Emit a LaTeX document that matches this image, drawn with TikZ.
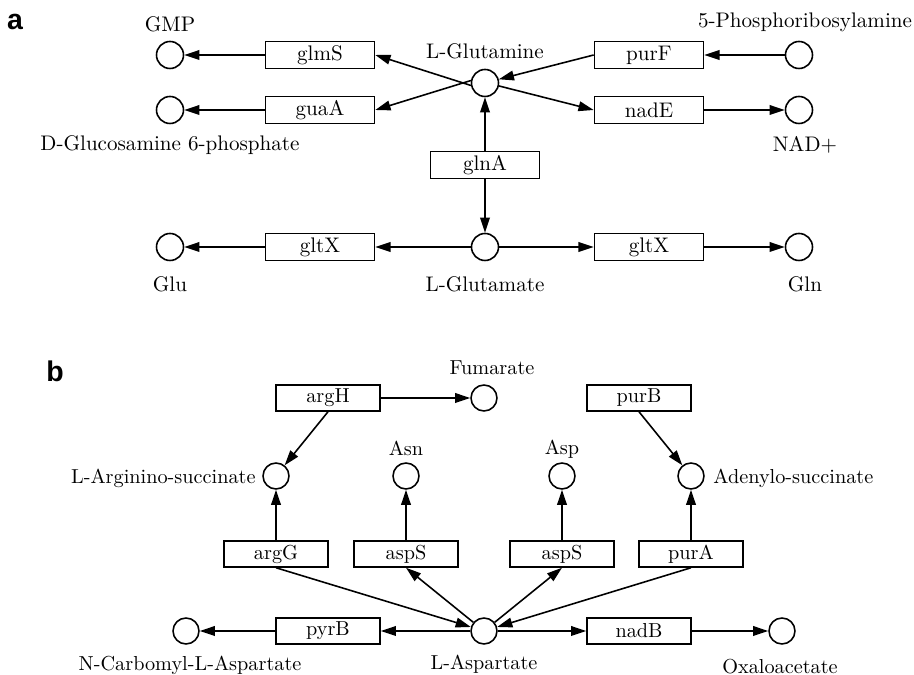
\documentclass[tikz,border=0pt]{standalone}
\usepackage{fontspec}
\newfontfamily\panelfont{Liberation Sans}
\usetikzlibrary{arrows.meta}

\tikzset{
  lw/.style={line width=0.75pt},
  met/.style={circle, draw, lw, minimum size=12.8pt, inner sep=0pt},
  metb/.style={circle, draw, lw, minimum size=12.3pt, inner sep=0pt},
  enz/.style={rectangle, draw, lw, minimum width=51.7pt, minimum height=12.8pt, inner sep=0pt},
  enzb/.style={rectangle, draw, lw, minimum width=49.3pt, minimum height=12.3pt, inner sep=0pt},
  rx/.style={lw, -{Triangle[length=7.2pt,width=4.6pt]}},
  lbl/.style={inner sep=0pt},
  panel/.style={inner sep=0pt, font=\panelfont\bfseries\fontsize{13.5}{16}\selectfont},
}

\begin{document}
\begin{tikzpicture}[x=0.474pt, y=-0.474pt]
\useasboundingbox (0,0) rectangle (914,675);

% ---------- panel a: glutamine / glutamate ----------
\node[panel] (pa) at (15,22) {a};

\begin{scope}[font=\fontsize{10}{12}\selectfont]
\node[met] (gmp) at (170,55) {};
\node[met] (g6p) at (170,110) {};
\node[met] (glu) at (170,247) {};
\node[met] (gln) at (485,83) {};
\node[met] (glut) at (485,247) {};
\node[met] (pra) at (799,55) {};
\node[met] (nad) at (799,110) {};
\node[met] (glnout) at (799,247) {};

\node[enz] (glmS) at (320,55) {glmS};
\node[enz] (guaA) at (320,110) {guaA};
\node[enz] (gltXl) at (320,247) {gltX};
\node[enz] (purF) at (649,55) {purF};
\node[enz] (nadE) at (649,110) {nadE};
\node[enz] (glnA) at (485,165) {glnA};
\node[enz] (gltXr) at (649,247) {gltX};

\node[lbl] (tgmp) at (170,24) {GMP};
\node[lbl] (tg6p) at (170,145) {D-Glucosamine 6-phosphate};
\node[lbl] (tglu) at (170,284) {Glu};
\node[lbl] (tgln) at (485,51) {L-Glutamine};
\node[lbl] (tglut) at (485,284) {L-Glutamate};
\node[lbl] (tpra) at (805,22) {5-Phosphoribosylamine};
\node[lbl] (tnad) at (805,145) {NAD+};
\node[lbl] (tglnout) at (805,284) {Gln};
\end{scope}

\draw[rx] (glmS) -- (gmp);
\draw[rx] (guaA) -- (g6p);
\draw[rx] (gln.190) -- (glmS.east);
\draw[rx] (gln.170) -- (guaA.east);
\draw[rx] (purF.west) -- (gln.15);
\draw[rx] (pra) -- (purF);
\draw[rx] (gln.-12) -- (nadE.west);
\draw[rx] (nadE) -- (nad);
\draw[rx] (glnA) -- (gln);
\draw[rx] (glnA) -- (glut);
\draw[rx] (glut) -- (gltXl);
\draw[rx] (gltXl) -- (glu);
\draw[rx] (glut) -- (gltXr);
\draw[rx] (gltXr) -- (glnout);

% ---------- panel b: aspartate ----------
\node[panel] (pb) at (55,371) {b};

\begin{scope}[font=\fontsize{9.6}{11.5}\selectfont]
\node[metb] (fum) at (484,398) {};
\node[metb] (arg) at (276,476) {};
\node[metb] (asn) at (406,476) {};
\node[metb] (asp) at (562,476) {};
\node[metb] (ade) at (691,476) {};
\node[metb] (lasp) at (484,631) {};
\node[metb] (ncl) at (186,631) {};
\node[metb] (oxa) at (782,631) {};

\node[enzb] (argH) at (328,398) {argH};
\node[enzb] (purB) at (639,398) {purB};
\node[enzb] (argG) at (276,554) {argG};
\node[enzb] (aspSl) at (406,554) {aspS};
\node[enzb] (aspSr) at (562,554) {aspS};
\node[enzb] (purA) at (691,554) {purA};
\node[enzb] (pyrB) at (328,631) {pyrB};
\node[enzb] (nadB) at (639,631) {nadB};

\node[lbl] (tfum) at (492,368) {Fumarate};
\node[lbl] (tasn) at (406,448) {Asn};
\node[lbl] (tasp) at (562,449) {Asp};
\node[lbl, anchor=east] (targ) at (256,478) {L-Arginino-succinate};
\node[lbl, anchor=west] (tade) at (713,478) {Adenylo-succinate};
\node[lbl] (tncl) at (190,665) {N-Carbomyl-L-Aspartate};
\node[lbl] (tlasp) at (484,664) {L-Aspartate};
\node[lbl] (toxa) at (780,667) {Oxaloacetate};
\end{scope}

\draw[rx] (argH.south) -- (arg);
\draw[rx] (argH) -- (fum);
\draw[rx] (purB.south) -- (ade);
\draw[rx] (argG) -- (arg);
\draw[rx] (aspSl) -- (asn);
\draw[rx] (aspSr) -- (asp);
\draw[rx] (purA) -- (ade);
\draw[rx] (argG.south) -- (lasp);
\draw[rx] (lasp) -- (aspSl.south);
\draw[rx] (lasp) -- (aspSr.south);
\draw[rx] (purA.south) -- (lasp);
\draw[rx] (lasp) -- (pyrB);
\draw[rx] (pyrB) -- (ncl);
\draw[rx] (lasp) -- (nadB);
\draw[rx] (nadB) -- (oxa);
\end{tikzpicture}
\end{document}
